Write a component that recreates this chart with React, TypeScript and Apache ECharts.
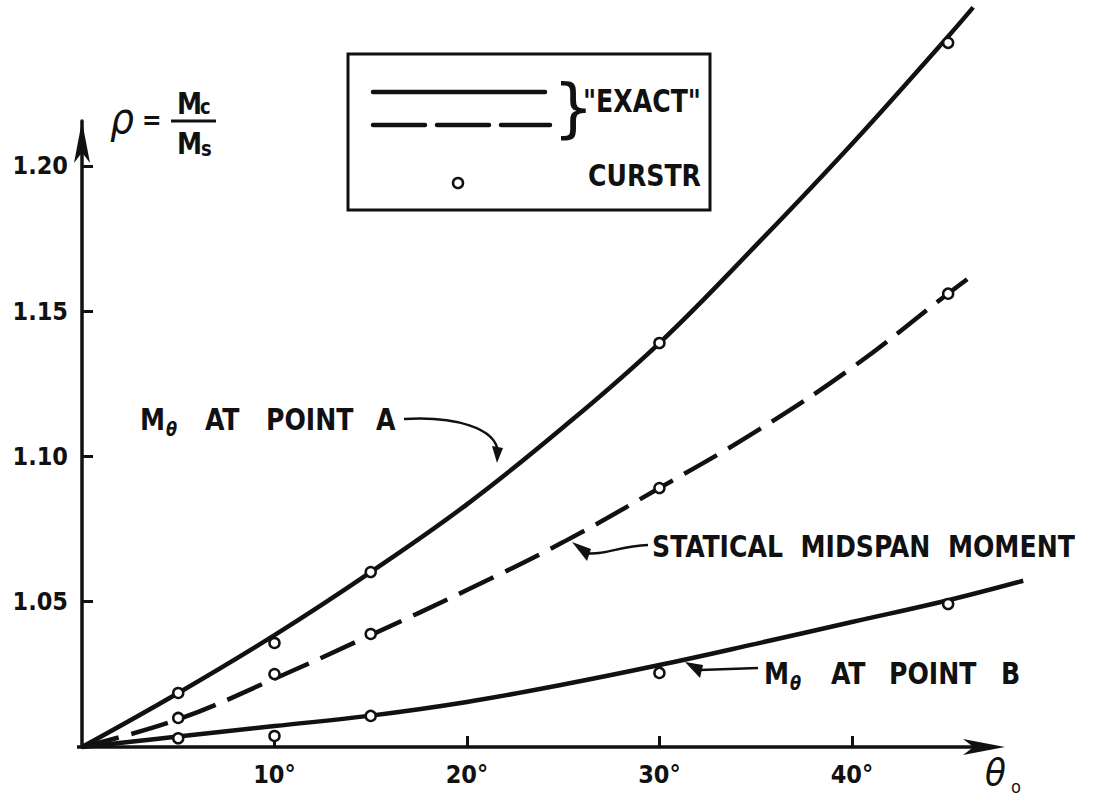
import React, { useEffect, useRef } from "react";
import * as echarts from "echarts";

// ---- data ----
const curveAX = [0, 5, 10, 15, 20, 25, 30, 35, 40, 45, 46.3];
const curveAY = [1.0, 1.0186, 1.0385, 1.0602, 1.0835, 1.11, 1.139, 1.1725, 1.2075, 1.2445, 1.2545];

const curveDX = [0, 5, 10, 15, 20, 25, 30, 35, 40, 45, 46.5];
const curveDY = [1.0, 1.0095, 1.0235, 1.0385, 1.054, 1.0705, 1.0891, 1.1085, 1.1305, 1.156, 1.1635];

const curveBX = [0, 5, 10, 15, 20, 25, 30, 35, 40, 45, 48.9];
const curveBY = [1.0, 1.0036, 1.0072, 1.0108, 1.0155, 1.0215, 1.0282, 1.0355, 1.043, 1.0505, 1.0572];

const curstrTheta = [5, 10, 15, 30, 45];
const curstrA = [1.0186, 1.0358, 1.0602, 1.139, 1.2423];
const curstrD = [1.01, 1.0251, 1.0389, 1.0891, 1.156];
const curstrB = [1.003, 1.0038, 1.0107, 1.0255, 1.0492];

const xTicks = [10, 20, 30, 40];
const yTicks = [1.05, 1.1, 1.15, 1.2];

const F = "'DejaVu Sans Condensed','DejaVu Sans',sans-serif";

function zip(xs: number[], ys: number[]) {
  return xs.map((x, i) => [x, ys[i]]);
}

function t(x: number, y: number, text: string, size: number, extra: any = {}, sy = 1.08) {
  return {
    type: "text",
    x,
    y,
    scaleY: sy,
    z: 50,
    style: {
      text,
      fill: "#111",
      fontSize: size,
      fontFamily: F,
      fontWeight: "bold",
      align: "left",
      verticalAlign: "middle",
      ...extra,
    },
  };
}

export default function App() {
  const ref = useRef<HTMLDivElement>(null);
  useEffect(() => {
    document.body.style.margin = "0";
    const chart = echarts.init(ref.current!, undefined, { renderer: "svg" });
    const lineStyleBase = { color: "#111", width: 4.5 };
    const graphic: any[] = [
      // legend box
      { type: "rect", shape: { x: 348, y: 54, width: 362, height: 156 }, style: { fill: "none", stroke: "#111", lineWidth: 3 }, z: 50 },
      { type: "line", shape: { x1: 373, y1: 92, x2: 545, y2: 92 }, style: { stroke: "#111", lineWidth: 4.5, lineCap: "round" }, z: 50 },
      { type: "line", shape: { x1: 373, y1: 125, x2: 550, y2: 125 }, style: { stroke: "#111", lineWidth: 4.5, lineCap: "round", lineDash: [52, 12] }, z: 50 },
      t(553, 108, "}", 64, { fontWeight: "normal", fontFamily: "'DejaVu Sans',sans-serif" }, 1.0),
      t(583, 101, "\"EXACT\"", 28, {}, 1.15),
      { type: "circle", shape: { cx: 458, cy: 183, r: 5 }, style: { fill: "#fff", stroke: "#111", lineWidth: 2.5 }, z: 50 },
      t(588, 176, "CURSTR", 28),
      // rho = Mc / Ms
      t(110, 118, "ρ", 42, { fontStyle: "italic", fontWeight: "normal" }, 1.0),
      t(142, 120, "=", 26, {}, 1.0),
      t(177, 104, "M", 28),
      t(200, 107, "c", 20),
      { type: "line", shape: { x1: 171, y1: 121, x2: 216, y2: 121 }, style: { stroke: "#111", lineWidth: 3 }, z: 50 },
      t(177, 144, "M", 28),
      t(201, 149, "s", 20),
      // theta_o
      t(985, 772, "θ", 38, { fontStyle: "italic", fontWeight: "normal" }, 1.0),
      t(1011, 786, "o", 18, { fontWeight: "normal" }, 1.0),
      // M_theta at point A
      t(140, 420, "M", 28),
      t(166, 429, "θ", 18, { fontStyle: "italic" }),
      t(205, 420, "AT", 28),
      t(266, 420, "POINT", 28),
      t(376, 420, "A", 28),
      { type: "bezierCurve", shape: { x1: 404, y1: 419, cpx1: 455, cpy1: 416, cpx2: 496, cpy2: 428, x2: 498, y2: 452 }, style: { stroke: "#111", lineWidth: 2.5, fill: "none" }, z: 50 },
      { type: "polygon", shape: { points: [[492, 446], [503, 448], [497, 463]] }, style: { fill: "#111" }, z: 50 },
      // statical midspan moment
      t(652, 547, "STATICAL  MIDSPAN  MOMENT", 28),
      { type: "bezierCurve", shape: { x1: 648, y1: 545, cpx1: 620, cpy1: 546, cpx2: 602, cpy2: 556, x2: 586, y2: 553 }, style: { stroke: "#111", lineWidth: 2.5, fill: "none" }, z: 50 },
      { type: "polygon", shape: { points: [[572, 542], [591, 549], [587, 561]] }, style: { fill: "#111" }, z: 50 },
      // M_theta at point B
      t(764, 674, "M", 28),
      t(790, 683, "θ", 18, { fontStyle: "italic" }),
      t(831, 674, "AT", 28),
      t(889, 674, "POINT", 28),
      t(1001, 674, "B", 28),
      { type: "line", shape: { x1: 758, y1: 668, x2: 700, y2: 670 }, style: { stroke: "#111", lineWidth: 2.5 }, z: 50 },
      { type: "polygon", shape: { points: [[685, 662], [703, 665], [700, 678]] }, style: { fill: "#111" }, z: 50 },
      // theta axis line with its arrow (the axis itself runs further so the curves are not clipped)
      { type: "line", shape: { x1: 77, y1: 747, x2: 985, y2: 747 }, style: { stroke: "#111", lineWidth: 3.5 }, z: 50 },
      { type: "polygon", shape: { points: [[1005, 747], [963, 739], [973.5, 747], [963, 755]] }, style: { fill: "#111" }, z: 50 },
    ];

    const option: any = {
      animation: false,
      backgroundColor: "#fff",
      grid: { left: 82, right: 48, top: 121, bottom: 50, containLabel: false },
      xAxis: {
        type: "value",
        min: 0,
        max: 50.5,
        splitLine: { show: false },
        axisLine: { show: false },
        axisTick: { show: true, inside: true, length: 11, lineStyle: { color: "#111", width: 3 }, customValues: xTicks },
        axisLabel: {
          customValues: xTicks,
          formatter: (v: number) => `${v}°`,
          color: "#111",
          fontSize: 25,
          fontWeight: "bold",
          fontFamily: F,
          margin: 15,
        },
      },
      yAxis: {
        type: "value",
        min: 1.0,
        max: 1.2154,
        splitLine: { show: false },
        axisLine: { show: true, lineStyle: { color: "#111", width: 3.5 }, symbol: ["none", "arrow"], symbolSize: [12, 42] },
        axisTick: { show: true, inside: true, length: 11, lineStyle: { color: "#111", width: 3 }, customValues: yTicks },
        axisLabel: {
          customValues: yTicks,
          formatter: (v: number) => v.toFixed(2),
          color: "#111",
          fontSize: 25,
          fontWeight: "bold",
          fontFamily: F,
          margin: 14,
        },
      },
      series: [
        { name: "A exact", type: "line", data: zip(curveAX, curveAY), smooth: 0.4, showSymbol: false, symbol: "none", clip: false, lineStyle: { ...lineStyleBase }, z: 3 },
        { name: "Statical exact", type: "line", data: zip(curveDX, curveDY), smooth: 0.4, showSymbol: false, symbol: "none", clip: false, lineStyle: { ...lineStyleBase, type: [38, 13] }, z: 3 },
        { name: "B exact", type: "line", data: zip(curveBX, curveBY), smooth: 0.4, showSymbol: false, symbol: "none", clip: false, lineStyle: { ...lineStyleBase }, z: 3 },
        ...[curstrA, curstrD, curstrB].map((ys, i) => ({
          name: "CURSTR " + i,
          type: "scatter",
          data: zip(curstrTheta, ys),
          symbol: "circle",
          symbolSize: 10,
          clip: false,
          itemStyle: { color: "#fff", opacity: 1, borderColor: "#111", borderWidth: 2.5 },
          z: 5,
        })),
      ],
      graphic,
    };
    chart.setOption(option);
    return () => chart.dispose();
  }, []);
  return <div ref={ref} style={{ width: 1102, height: 797 }} />;
}
